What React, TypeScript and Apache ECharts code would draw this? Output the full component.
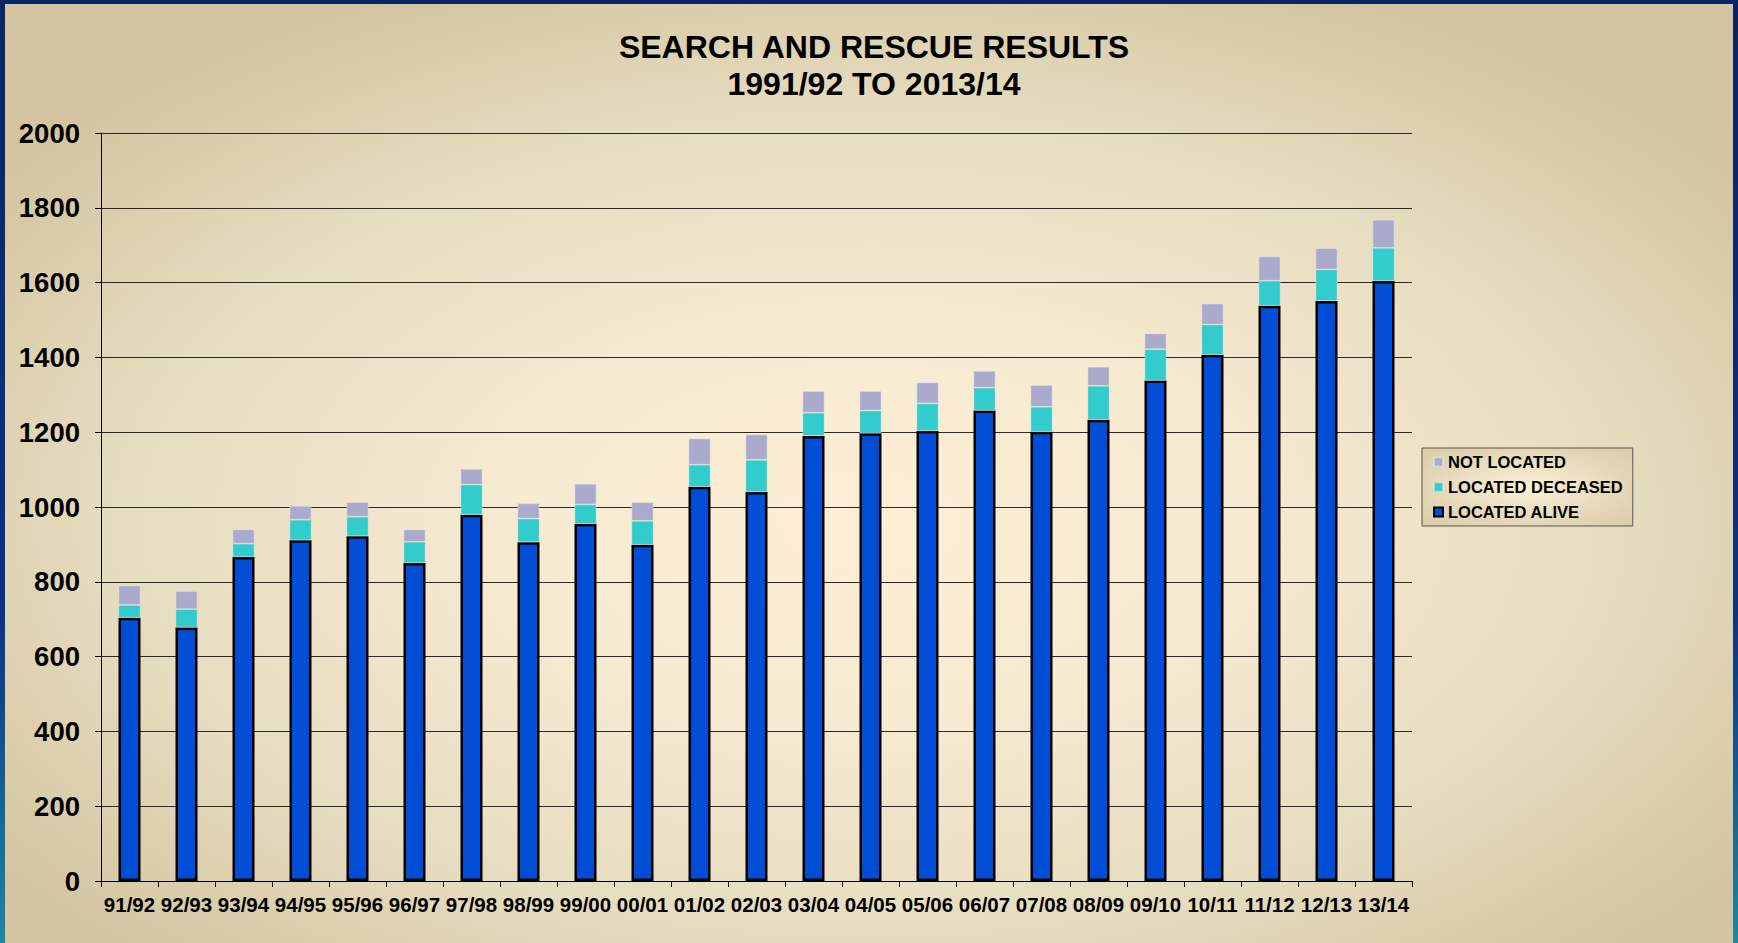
import React, { useEffect, useRef } from "react";
import * as echarts from "echarts";

const categories = ["91/92","92/93","93/94","94/95","95/96","96/97","97/98","98/99","99/00","00/01","01/02","02/03","03/04","04/05","05/06","06/07","07/08","08/09","09/10","10/11","11/12","12/13","13/14"];
const locatedAlive = [704, 678, 866, 911, 922, 850, 979, 906, 955, 899, 1054, 1040, 1190, 1197, 1203, 1258, 1201, 1233, 1338, 1407, 1538, 1551, 1604];
const locatedDeceased = [34, 49, 36, 55, 52, 57, 81, 63, 52, 64, 59, 86, 62, 61, 74, 61, 67, 91, 84, 81, 67, 84, 89];
const notLocated = [52, 48, 38, 37, 39, 33, 42, 41, 55, 50, 70, 68, 58, 52, 56, 45, 58, 51, 42, 56, 65, 57, 75];
const titleLines = ["SEARCH AND RESCUE RESULTS", "1991/92 TO 2013/14"];

const FONT = "'Liberation Sans', Arial, Helvetica, sans-serif";

export default function App() {
  const ref = useRef<HTMLDivElement>(null);
  useEffect(() => {
    document.body.style.margin = "0";
    if (!ref.current) return;
    const chart = echarts.init(ref.current, null, { renderer: "svg" });
    chart.setOption({
      animation: false,
      backgroundColor: "transparent",
      graphic: [
        {
          type: "text",
          x: 874,
          y: 47,
          silent: true,
          style: {
            text: titleLines[0],
            font: `bold 32px ${FONT}`,
            fill: "#000",
            align: "center",
            verticalAlign: "middle",
          },
        },
        {
          type: "text",
          x: 874,
          y: 84,
          silent: true,
          style: {
            text: titleLines[1],
            font: `bold 32px ${FONT}`,
            fill: "#000",
            align: "center",
            verticalAlign: "middle",
          },
        },
      ],
      legend: {
        orient: "vertical",
        left: 1422,
        top: 448,
        padding: [4, 10, 4, 11],
        itemWidth: 9,
        itemHeight: 9,
        itemGap: 5,
        icon: "rect",
        borderColor: "#555",
        borderWidth: 1,
        backgroundColor: new echarts.graphic.RadialGradient(0.5, 0.5, 0.7, [
          { offset: 0, color: "#FBEFD6" },
          { offset: 1, color: "#D8CBA8" },
        ]),
        textStyle: {
          fontFamily: FONT,
          fontWeight: "bold",
          fontSize: 16.5,
          color: "#000",
          lineHeight: 20,
        },
        data: ["NOT LOCATED", "LOCATED DECEASED", "LOCATED ALIVE"],
      },
      grid: { left: 101, right: 326, top: 133, bottom: 62, containLabel: false },
      xAxis: {
        type: "category",
        data: categories,
        axisLine: { show: true, lineStyle: { color: "#000", width: 1 } },
        axisTick: { show: true, length: 6, lineStyle: { color: "#000" } },
        axisLabel: {
          interval: 0,
          margin: 13,
          fontFamily: FONT,
          fontWeight: "bold",
          fontSize: 20.5,
          color: "#000",
        },
        splitLine: { show: false },
      },
      yAxis: {
        type: "value",
        min: 0,
        max: 2000,
        interval: 200,
        axisLine: { show: true, lineStyle: { color: "#000", width: 1 } },
        axisTick: { show: true, length: 6, lineStyle: { color: "#000" } },
        axisLabel: {
          margin: 21,
          fontFamily: FONT,
          fontWeight: "bold",
          fontSize: 27.5,
          color: "#000",
          formatter: (v: number) => String(v),
        },
        splitLine: { show: true, lineStyle: { color: "#2a2a2a", width: 1.2 } },
      },
      series: [
        {
          name: "LOCATED ALIVE",
          type: "bar",
          stack: "total",
          barWidth: 22,
          data: locatedAlive,
          itemStyle: { color: "#004DD6", borderColor: "#000", borderWidth: 2.5 },
        },
        {
          name: "LOCATED DECEASED",
          type: "bar",
          stack: "total",
          barWidth: 22,
          data: locatedDeceased,
          itemStyle: { color: "#33CCCC", borderColor: "rgba(230,230,230,0.5)", borderWidth: 0.8 },
        },
        {
          name: "NOT LOCATED",
          type: "bar",
          stack: "total",
          barWidth: 22,
          data: notLocated,
          itemStyle: { color: "#AAAACC", borderColor: "rgba(230,230,230,0.6)", borderWidth: 0.8 },
        },
      ],
    });
    return () => chart.dispose();
  }, []);

  return (
    <div
      style={{
        position: "relative",
        width: 1738,
        height: 943,
        overflow: "hidden",
        background: "linear-gradient(180deg, #0A2466 0%, #0C3283 65%, #1D86A6 100%)",
      }}
    >
      <div
        style={{
          position: "absolute",
          left: 5,
          top: 4,
          width: 1728,
          height: 945,
          background:
            "radial-gradient(ellipse 62% 62% at 50% 55%, #FCEFD5 0%, #F6EAD1 35%, #E6DCBF 70%, #D3C5A0 100%)",
        }}
      />
      <div ref={ref} style={{ position: "absolute", left: 0, top: 0, width: 1738, height: 943 }} />
    </div>
  );
}
